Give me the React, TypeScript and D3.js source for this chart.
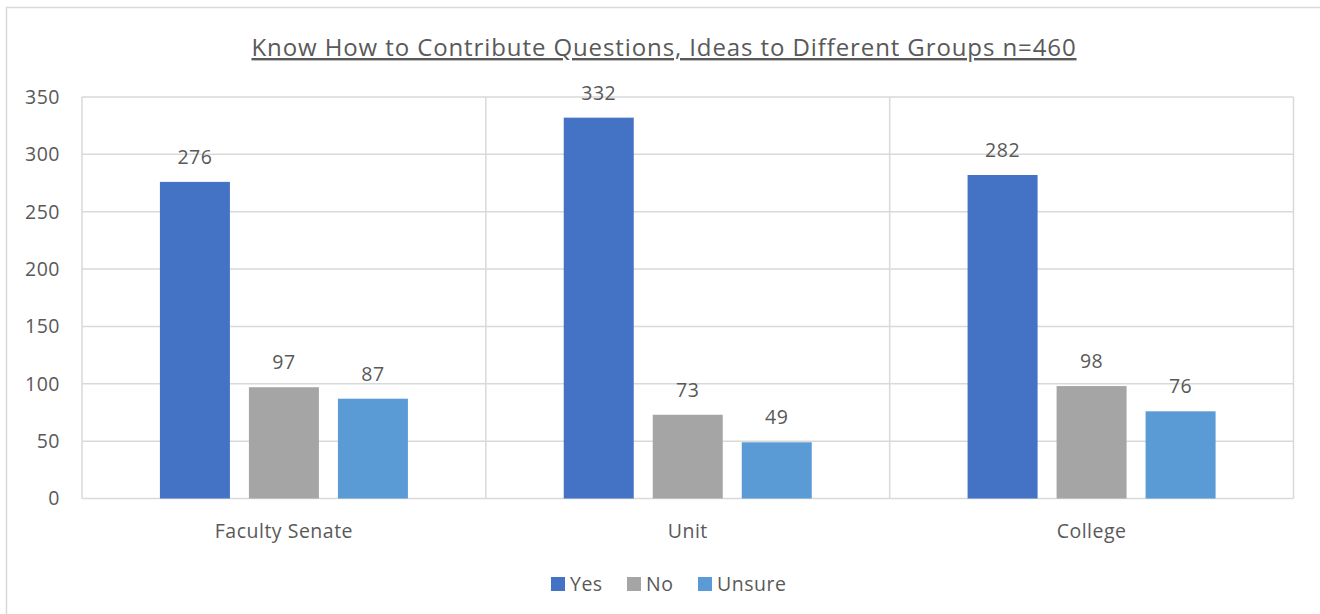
import React from "react";
import * as d3 from "d3";

const categories = ["Faculty Senate", "Unit", "College"];
const seriesNames = ["Yes", "No", "Unsure"];
const yesValues = [276, 332, 282];
const noValues = [97, 73, 98];
const unsureValues = [87, 49, 76];
const yTicks = [0, 50, 100, 150, 200, 250, 300, 350];
const colors = ["#4472C4", "#A5A5A5", "#5B9BD5"];
const title = "Know How to Contribute Questions, Ideas to Different Groups n=460";

export default function App() {
  const W = 1320, H = 614;
  const left = 82, right = 1293.5, top = 97, bottom = 498.5;
  const font = "'Open Sans', sans-serif";
  const textColor = "#595959";
  const grid = "#D9D9D9";
  const series = [yesValues, noValues, unsureValues];
  const fs = 19.5;
  const ls = 0.5;

  const x0 = d3.scaleBand<string>().domain(categories).range([left, right]).paddingInner(0).paddingOuter(0);
  const catW = x0.bandwidth();
  const groupW = 248;
  const x1 = d3.scaleBand<string>().domain(seriesNames).range([0, groupW]).paddingInner(19 / 89).paddingOuter(0);
  const y = d3.scaleLinear().domain([0, 350]).range([bottom, top]);

  return (
    <svg width={W} height={H} style={{ position: "absolute", left: 0, top: 0, background: "#fff" }}>
      <rect x={6.5} y={7.5} width={W} height={H} fill="#fff" stroke={grid} strokeWidth={1.5} />
      <text x={664} y={56} textAnchor="middle" fontFamily={font} fontSize={24} letterSpacing={0.9} fill={textColor} textDecoration="underline">
        {title}
      </text>
      {yTicks.map((t) => (
        <g key={t}>
          <line x1={left} x2={right} y1={y(t)} y2={y(t)} stroke={grid} strokeWidth={1.5} />
          <text x={60} y={y(t)} dy="0.35em" textAnchor="end" fontFamily={font} fontSize={fs} letterSpacing={ls} fill={textColor}>
            {t}
          </text>
        </g>
      ))}
      {categories.map((c, i) => (
        <line key={"v" + i} x1={x0(c)!} x2={x0(c)!} y1={top} y2={bottom} stroke={grid} strokeWidth={1.5} />
      ))}
      <line x1={right} x2={right} y1={top} y2={bottom} stroke={grid} strokeWidth={1.5} />
      {categories.map((c, ci) => {
        const gx = x0(c)! + (catW - groupW) / 2;
        return (
          <g key={c}>
            {seriesNames.map((s, si) => {
              const v = series[si][ci];
              const bx = gx + x1(s)!;
              const bw = x1.bandwidth();
              return (
                <g key={s}>
                  <rect x={bx} y={y(v)} width={bw} height={y(0) - y(v)} fill={colors[si]} />
                  <text x={bx + bw / 2} y={y(v) - 18} textAnchor="middle" fontFamily={font} fontSize={fs} letterSpacing={ls} fill={textColor}>
                    {v}
                  </text>
                </g>
              );
            })}
            <text x={x0(c)! + catW / 2} y={531} dy="0.35em" textAnchor="middle" fontFamily={font} fontSize={fs} letterSpacing={ls} fill={textColor}>
              {c}
            </text>
          </g>
        );
      })}
      {seriesNames.map((s, i) => {
        const lx = [551, 627, 698][i];
        return (
          <g key={"l" + s}>
            <rect x={lx} y={577} width={14} height={14} fill={colors[i]} />
            <text x={lx + 19} y={584} dy="0.35em" fontFamily={font} fontSize={fs} letterSpacing={ls} fill={textColor}>
              {s}
            </text>
          </g>
        );
      })}
    </svg>
  );
}
